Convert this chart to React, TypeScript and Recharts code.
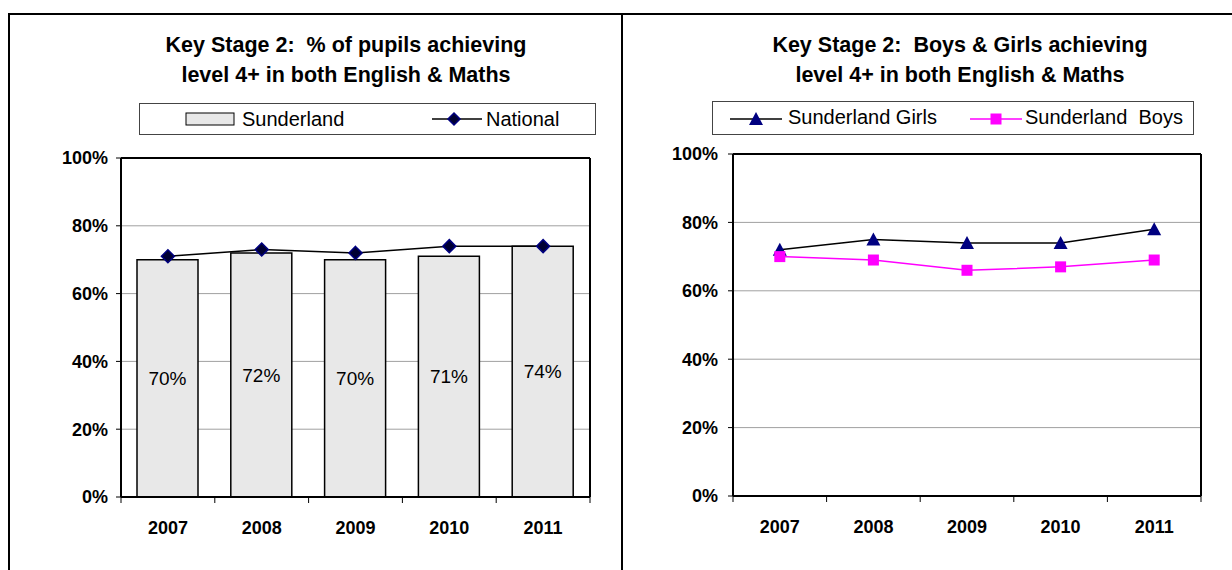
import React from 'react'
import {
  ComposedChart,
  Bar,
  Line,
  XAxis,
  YAxis,
  CartesianGrid,
  LabelList,
} from 'recharts'

const YEARS = ['2007', '2008', '2009', '2010', '2011']
const SUNDERLAND = [70, 72, 70, 71, 74]
const NATIONAL = [71, 73, 72, 74, 74]
const GIRLS = [72, 75, 74, 74, 78]
const BOYS = [70, 69, 66, 67, 69]
const Y_TICKS = [0, 20, 40, 60, 80, 100]

const FONT = '"Liberation Sans", Arial, sans-serif'
const NAVY = '#000080'
const MAGENTA = '#FF00FF'

const leftData = YEARS.map((year, i) => ({
  year,
  sunderland: SUNDERLAND[i],
  national: NATIONAL[i],
}))

const rightData = YEARS.map((year, i) => ({
  year,
  girls: GIRLS[i],
  boys: BOYS[i],
}))

// x tick: label plus Excel-style tick marks on the category boundaries
function YearTick(props: any) {
  const { x, y, payload, index, band } = props
  const last = index === YEARS.length - 1
  return (
    <g>
      <line x1={x - band / 2} x2={x - band / 2} y1={y} y2={y + 6} stroke="#000" strokeWidth={1} />
      {last && <line x1={x + band / 2} x2={x + band / 2} y1={y} y2={y + 6} stroke="#000" strokeWidth={1} />}
      <text
        x={x}
        y={y + 37}
        textAnchor="middle"
        fontFamily={FONT}
        fontWeight="bold"
        fontSize={18}
        fill="#000"
      >
        {payload.value}
      </text>
    </g>
  )
}

function Diamond(props: any) {
  const { cx, cy } = props
  if (cx == null || cy == null) return null
  const r = 6.5
  return (
    <path
      d={`M${cx},${cy - r}L${cx + r},${cy}L${cx},${cy + r}L${cx - r},${cy}Z`}
      fill="#000033"
      stroke={NAVY}
      strokeWidth={1.5}
    />
  )
}

function Triangle(props: any) {
  const { cx, cy } = props
  if (cx == null || cy == null) return null
  return (
    <path d={`M${cx},${cy - 7}L${cx + 7},${cy + 6}L${cx - 7},${cy + 6}Z`} fill={NAVY} />
  )
}

function Square(props: any) {
  const { cx, cy } = props
  if (cx == null || cy == null) return null
  return <rect x={cx - 5.5} y={cy - 5.5} width={11} height={11} fill={MAGENTA} />
}

const yTickStyle = { fontSize: 18, fontWeight: 'bold', fill: '#000', fontFamily: FONT }

function Title({ lines, left, width }: { lines: string[]; left: number; width: number }) {
  return (
    <div
      style={{
        position: 'absolute',
        left,
        top: 30,
        width,
        textAlign: 'center',
        fontFamily: FONT,
        fontWeight: 'bold',
        fontSize: 21.5,
        lineHeight: '30px',
        whiteSpace: 'pre',
      }}
    >
      {lines.map(l => (
        <div key={l}>{l}</div>
      ))}
    </div>
  )
}

const legendText: React.CSSProperties = {
  position: 'absolute',
  top: 3,
  fontFamily: FONT,
  fontSize: 20,
  whiteSpace: 'pre',
  lineHeight: '24px',
}

function LeftChart() {
  const plotWidth = 590 - 121
  return (
    <div style={{ position: 'absolute', left: 0, top: 0, width: 622, height: 570 }}>
      <Title lines={['Key Stage 2:  % of pupils achieving', 'level 4+ in both English & Maths']} left={96} width={500} />
      <div
        style={{
          position: 'absolute',
          left: 139,
          top: 103,
          width: 457,
          height: 32,
          border: '1px solid #444',
          boxSizing: 'border-box',
        }}
      >
        <svg style={{ position: 'absolute', left: 45, top: 8 }} width={50} height={14}>
          <rect x={1} y={1} width={48} height={12} fill="#E8E8E8" stroke="#000" strokeWidth={1} />
        </svg>
        <div style={{ ...legendText, left: 102 }}>Sunderland</div>
        <svg style={{ position: 'absolute', left: 292, top: 7 }} width={50} height={16}>
          <line x1={0} x2={50} y1={8} y2={8} stroke="#000" strokeWidth={1.5} />
          <path d="M22,2L28,8L22,14L16,8Z" fill="#000033" stroke={NAVY} strokeWidth={1.5} />
        </svg>
        <div style={{ ...legendText, left: 346 }}>National</div>
      </div>
      <ComposedChart
        width={622}
        height={570}
        data={leftData}
        margin={{ top: 157, right: 31, bottom: 23, left: 61 }}
        style={{ position: 'absolute', left: 0, top: 0 }}
      >
        <CartesianGrid vertical={false} stroke="#A0A0A0" strokeWidth={1} />
        <XAxis
          dataKey="year"
          height={50}
          tickLine={false}
          tickSize={0}
          tickMargin={0}
          axisLine={{ stroke: '#000', strokeWidth: 2 }}
          tick={<YearTick band={plotWidth / YEARS.length} />}
          interval={0}
        />
        <XAxis
          xAxisId="top"
          dataKey="year"
          orientation="top"
          height={1}
          tick={false}
          tickLine={false}
          axisLine={{ stroke: '#000', strokeWidth: 2 }}
        />
        <YAxis
          width={60}
          domain={[0, 100]}
          ticks={Y_TICKS}
          tickFormatter={v => `${v}%`}
          tick={yTickStyle}
          tickSize={5}
          tickMargin={8}
          tickLine={{ stroke: '#000' }}
          axisLine={{ stroke: '#000', strokeWidth: 2 }}
        />
        <YAxis
          yAxisId="right"
          orientation="right"
          width={1}
          domain={[0, 100]}
          tick={false}
          tickLine={false}
          axisLine={{ stroke: '#000', strokeWidth: 2 }}
        />
        <Bar
          dataKey="sunderland"
          barSize={61}
          fill="#E8E8E8"
          stroke="#000"
          strokeWidth={1.5}
          isAnimationActive={false}
        >
          <LabelList
            dataKey="sunderland"
            position="center"
            formatter={(v: any) => `${v}%`}
            style={{ fontFamily: FONT, fontSize: 19, fill: '#000' }}
          />
        </Bar>
        <Line
          dataKey="national"
          stroke="#000"
          strokeWidth={1.5}
          dot={<Diamond />}
          activeDot={false}
          isAnimationActive={false}
        />
      </ComposedChart>
    </div>
  )
}

function RightChart() {
  const plotWidth = 1201 - 733
  const band = plotWidth / YEARS.length
  return (
    <div style={{ position: 'absolute', left: 622, top: 0, width: 610, height: 570 }}>
      <Title lines={['Key Stage 2:  Boys & Girls achieving', 'level 4+ in both English & Maths']} left={88} width={500} />
      <div
        style={{
          position: 'absolute',
          left: 90,
          top: 101,
          width: 482,
          height: 34,
          border: '1px solid #444',
          boxSizing: 'border-box',
        }}
      >
        <svg style={{ position: 'absolute', left: 17, top: 8 }} width={52} height={16}>
          <line x1={0} x2={52} y1={9} y2={9} stroke="#000" strokeWidth={1.5} />
          <path d="M26,2L33,15L19,15Z" fill={NAVY} />
        </svg>
        <div style={{ ...legendText, left: 75 }}>Sunderland Girls</div>
        <svg style={{ position: 'absolute', left: 257, top: 8 }} width={52} height={16}>
          <line x1={0} x2={52} y1={9} y2={9} stroke={MAGENTA} strokeWidth={1.5} />
          <rect x={20.5} y={3.5} width={11} height={11} fill={MAGENTA} />
        </svg>
        <div style={{ ...legendText, left: 312 }}>Sunderland  Boys</div>
      </div>
      <ComposedChart
        width={610}
        height={570}
        data={rightData}
        margin={{ top: 153, right: 30, bottom: 24, left: 51 }}
        style={{ position: 'absolute', left: 0, top: 0 }}
      >
        <CartesianGrid vertical={false} stroke="#A0A0A0" strokeWidth={1} />
        <XAxis
          dataKey="year"
          height={50}
          padding={{ left: band / 2, right: band / 2 }}
          tickLine={false}
          tickSize={0}
          tickMargin={0}
          axisLine={{ stroke: '#000', strokeWidth: 2 }}
          tick={<YearTick band={band} />}
          interval={0}
        />
        <XAxis
          xAxisId="top"
          dataKey="year"
          orientation="top"
          height={1}
          tick={false}
          tickLine={false}
          axisLine={{ stroke: '#000', strokeWidth: 2 }}
        />
        <YAxis
          width={60}
          domain={[0, 100]}
          ticks={Y_TICKS}
          tickFormatter={v => `${v}%`}
          tick={yTickStyle}
          tickSize={5}
          tickMargin={10}
          tickLine={{ stroke: '#000' }}
          axisLine={{ stroke: '#000', strokeWidth: 2 }}
        />
        <YAxis
          yAxisId="right"
          orientation="right"
          width={1}
          domain={[0, 100]}
          tick={false}
          tickLine={false}
          axisLine={{ stroke: '#000', strokeWidth: 2 }}
        />
        <Line
          dataKey="girls"
          stroke="#000"
          strokeWidth={1.5}
          dot={<Triangle />}
          activeDot={false}
          isAnimationActive={false}
        />
        <Line
          dataKey="boys"
          stroke={MAGENTA}
          strokeWidth={1.5}
          dot={<Square />}
          activeDot={false}
          isAnimationActive={false}
        />
      </ComposedChart>
    </div>
  )
}

export default function App() {
  return (
    <div
      style={{
        position: 'absolute',
        left: 0,
        top: 0,
        width: 1232,
        height: 570,
        overflow: 'hidden',
        background: '#fff',
      }}
    >
      {/* outer frame and panel divider */}
      <div
        style={{
          position: 'absolute',
          left: 8,
          top: 13,
          width: 1260,
          height: 620,
          border: '2px solid #000',
        }}
      />
      <div style={{ position: 'absolute', left: 621, top: 13, width: 2, height: 600, background: '#000' }} />
      <LeftChart />
      <RightChart />
    </div>
  )
}
